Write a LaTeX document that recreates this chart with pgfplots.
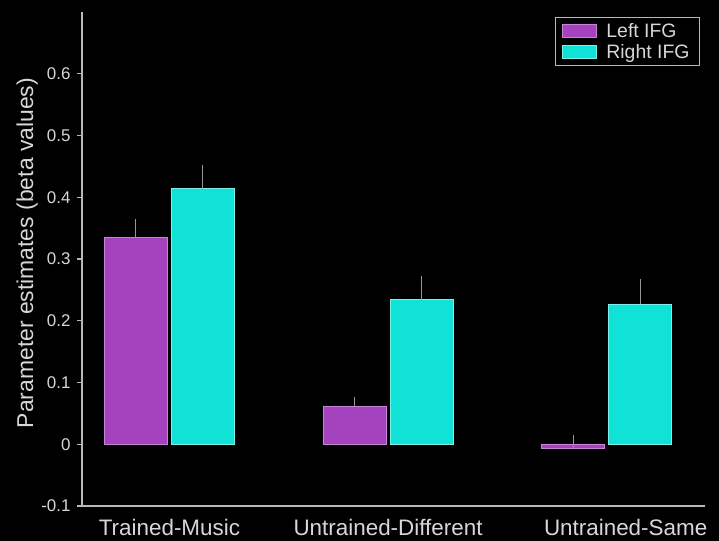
\documentclass[border=0pt]{standalone}
\usepackage{pgfplots}
\pgfplotsset{compat=1.18}
\usepackage{fontspec}
\setmainfont{Liberation Sans}
\definecolor{lpurple}{RGB}{165,66,190}
\definecolor{lpurpleedge}{RGB}{200,130,215}
\definecolor{lcyan}{RGB}{16,226,216}
\definecolor{lcyanedge}{RGB}{120,240,232}
\definecolor{txt}{RGB}{215,215,215}
\definecolor{axc}{RGB}{185,185,185}
\definecolor{errc}{RGB}{150,150,150}
\pgfplotstableread{
x y e
0 0.335 0.030
1 0.061 0.016
2 -0.007 0.022
}\leftifg
\pgfplotstableread{
x y e
0 0.414 0.039
1 0.234 0.039
2 0.227 0.041
}\rightifg
\begin{document}
\begin{tikzpicture}[x=1bp,y=1bp]
\fill[black] (0,0) rectangle (719,541);
\path[use as bounding box] (0,0) rectangle (719,541);
\begin{axis}[
  at={(82bp,35bp)}, anchor=south west,
  scale only axis, width=623bp, height=494bp,
  xmin=-0.4, xmax=2.45, ymin=-0.1, ymax=0.7,
  ybar=4bp, bar width=63bp,
  axis x line=bottom, axis y line=left,
  axis line style={axc, line width=1.6bp, -},
  xtick={0,1,2},
  xticklabels={Trained-Music, Untrained-Different, \hspace*{38bp}Untrained-Same},
  xtick style={draw=none},
  ytick={-0.1,0,0.1,0.2,0.3,0.4,0.5,0.6},
  tick align=outside, major tick length=5bp,
  ytick style={axc, line width=1.2bp},
  /pgf/number format/.cd, fixed, precision=1, assume math mode=true,
  /pgfplots/.cd,
  yticklabel style={font=\fontsize{17}{17}\selectfont, text=txt, xshift=-3bp},
  xticklabel style={font=\fontsize{22.5}{22.5}\selectfont, text=txt, yshift=-5bp},
  ylabel={Parameter estimates (beta values)},
  ylabel style={at={(axis description cs:-0.088,0.512)}, anchor=center, font=\fontsize{23}{23}\selectfont, text=txt},
  legend style={at={(axis description cs:0.992,0.99)}, anchor=north east, draw=axc, fill=black, text=txt,
    font=\fontsize{19.5}{19.5}\selectfont, line width=1bp, row sep=3bp, inner xsep=7bp, inner ysep=5bp,
    nodes={inner xsep=3bp, inner ysep=1bp}},
  legend cell align=left,
  legend image code/.code={\fill[#1] (0bp,-6.5bp) rectangle (34bp,6.5bp); \path (40bp,0bp);},
]
\addplot[fill=lpurple, draw=lpurpleedge, line width=1bp,
  error bars/.cd, y dir=plus, y explicit, error mark=none,
  error bar style={errc, line width=1bp}]
  table[x=x, y=y, y error=e] {\leftifg};
\addlegendentry{Left IFG}
\addplot[fill=lcyan, draw=lcyanedge, line width=1bp,
  error bars/.cd, y dir=plus, y explicit, error mark=none,
  error bar style={errc, line width=1bp}]
  table[x=x, y=y, y error=e] {\rightifg};
\addlegendentry{Right IFG}
\end{axis}
\end{tikzpicture}
\end{document}
